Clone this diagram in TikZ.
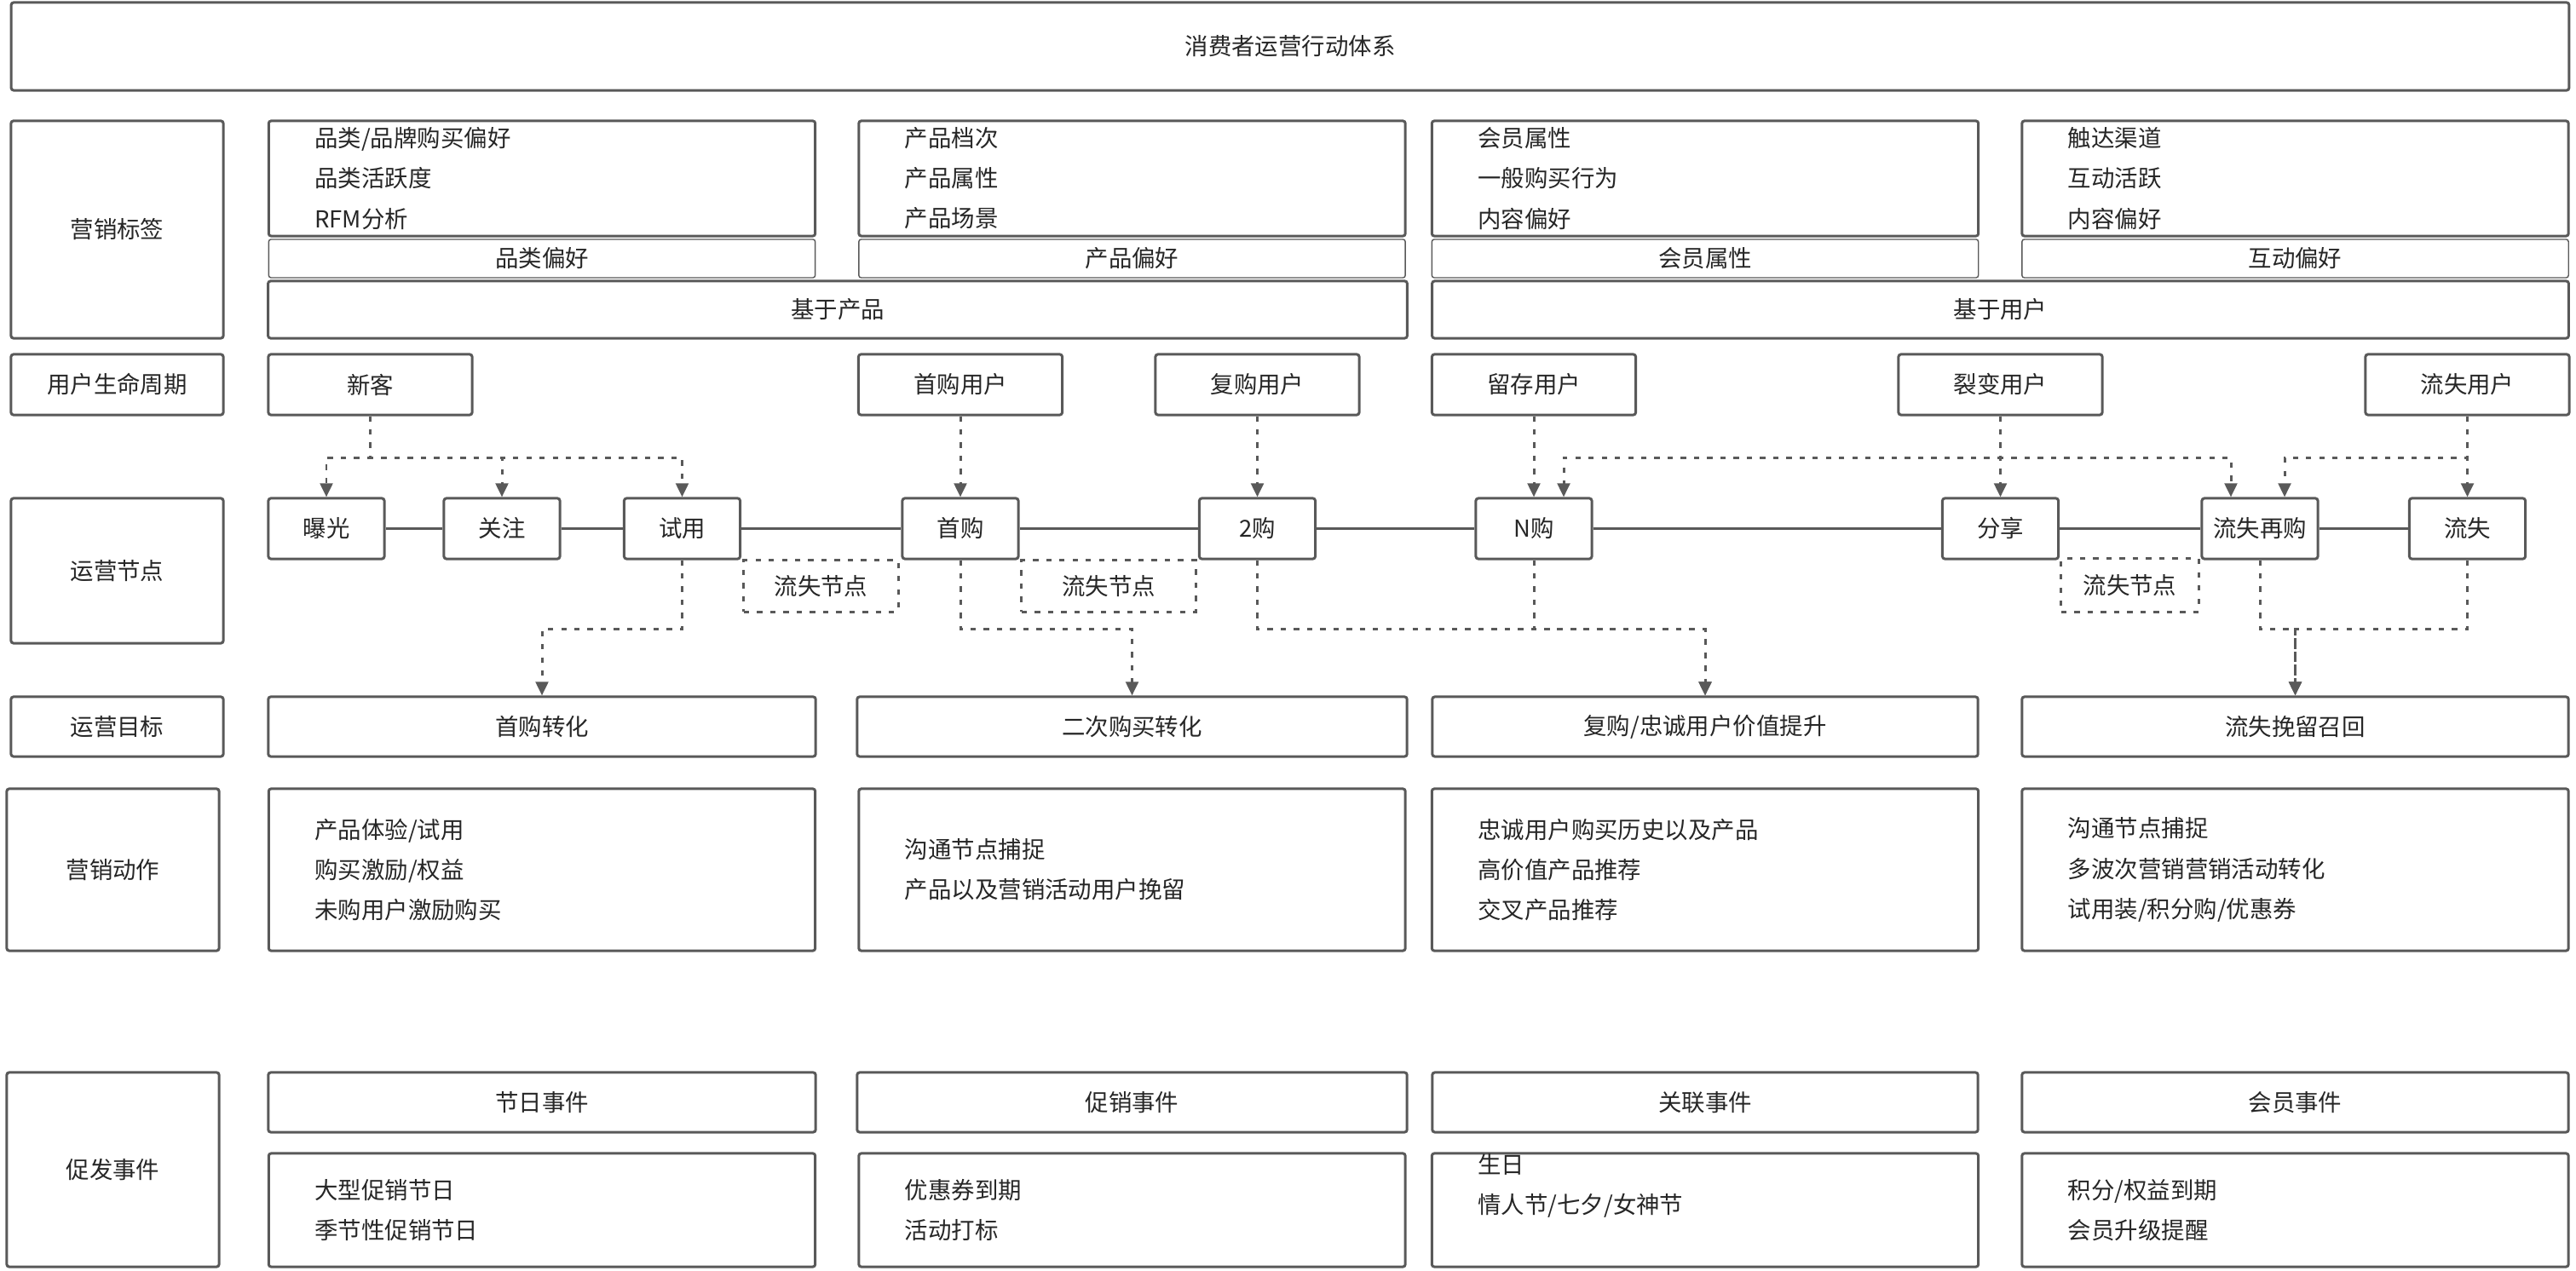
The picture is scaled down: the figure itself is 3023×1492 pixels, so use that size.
\documentclass[tikz,border=0pt]{standalone}
\usepackage{fontspec}
\setmainfont{Noto Sans CJK SC}
\usepackage{xcolor}
\usetikzlibrary{arrows.meta,positioning}
\definecolor{edgegray}{RGB}{89,89,89}
\definecolor{inkgray}{RGB}{38,38,38}

\begin{document}
\begin{tikzpicture}[
  x=0.01cm,y=-0.01cm,
  every node/.style={font=\fontsize{7.8}{13.4}\selectfont,text=inkgray,
                     align=center,inner sep=0pt},
  box/.style={draw=edgegray,line width=0.85pt,rounded corners=0.8pt,fill=white},
  thinbox/.style={box,line width=0.4pt},
  listbox/.style={box,align=left,text width=5.33cm,inner xsep=5.4mm},
  lossbox/.style={draw=edgegray,line width=0.85pt,dash pattern=on 1.8pt off 2.6pt},
  link/.style={draw=edgegray,line width=1pt},
  flow/.style={-{Triangle[length=4.6pt,width=4.2pt]},draw=edgegray,
               line width=0.85pt,dash pattern=on 1.8pt off 2.6pt}
]
\useasboundingbox (0,0) rectangle (3023,1492);

\node[box,minimum width=30cm,minimum height=1.03cm] (title) at (1514,54.5)
  {消费者运营行动体系};

% row labels
\node[box,minimum width=2.49cm,minimum height=2.55cm] (tagrow) at (137.5,269.5) {营销标签};
\node[box,minimum width=2.49cm,minimum height=0.71cm] (liferow) at (137.5,451.5) {用户生命周期};
\node[box,minimum width=2.49cm,minimum height=1.70cm] (noderow) at (137.5,670) {运营节点};
\node[box,minimum width=2.49cm,minimum height=0.70cm] (goalrow) at (137.5,853) {运营目标};
\node[box,minimum width=2.49cm,minimum height=1.90cm] (actrow) at (132.5,1021) {营销动作};
\node[box,minimum width=2.49cm,minimum height=2.28cm] (evtrow) at (132.5,1373) {促发事件};

% marketing tags
\node[listbox,minimum height=1.35cm] (tagA) at (636,209.5) {品类/品牌购买偏好\\品类活跃度\\RFM分析};
\node[listbox,minimum height=1.35cm] (tagB) at (1328.5,209.5) {产品档次\\产品属性\\产品场景};
\node[listbox,minimum height=1.35cm] (tagC) at (2001,209.5) {会员属性\\一般购买行为\\内容偏好};
\node[listbox,minimum height=1.35cm] (tagD) at (2693.5,209.5) {触达渠道\\互动活跃\\内容偏好};
\node[thinbox,minimum width=6.41cm,minimum height=0.45cm] (prefA) at (636,303.5) {品类偏好};
\node[thinbox,minimum width=6.41cm,minimum height=0.45cm] (prefB) at (1328.5,303.5) {产品偏好};
\node[thinbox,minimum width=6.41cm,minimum height=0.45cm] (prefC) at (2001,303.5) {会员属性};
\node[thinbox,minimum width=6.41cm,minimum height=0.45cm] (prefD) at (2693.5,303.5) {互动偏好};
\node[box,minimum width=13.36cm,minimum height=0.67cm] (byprod) at (983,363.5) {基于产品};
\node[box,minimum width=13.33cm,minimum height=0.67cm] (byuser) at (2347.5,363.5) {基于用户};

% life cycle
\node[box,minimum width=2.39cm,minimum height=0.71cm] (newc) at (434.5,451.5) {新客};
\node[box,minimum width=2.39cm,minimum height=0.71cm] (firstu) at (1127,451.5) {首购用户};
\node[box,minimum width=2.39cm,minimum height=0.71cm] (repeatu) at (1475.5,451.5) {复购用户};
\node[box,minimum width=2.39cm,minimum height=0.71cm] (keepu) at (1800,451.5) {留存用户};
\node[box,minimum width=2.39cm,minimum height=0.71cm] (fissu) at (2347.5,451.5) {裂变用户};
\node[box,minimum width=2.39cm,minimum height=0.71cm] (lostu) at (2895.5,451.5) {流失用户};

% operation nodes
\node[box,minimum width=1.36cm,minimum height=0.71cm] (expo) at (383,620.5) {曝光};
\node[box,minimum width=1.36cm,minimum height=0.71cm] (watch) at (589,620.5) {关注};
\node[box,minimum width=1.36cm,minimum height=0.71cm] (trial) at (800.5,620.5) {试用};
\node[box,minimum width=1.36cm,minimum height=0.71cm] (first) at (1127,620.5) {首购};
\node[box,minimum width=1.36cm,minimum height=0.71cm] (second) at (1475.5,620.5) {2购};
\node[box,minimum width=1.36cm,minimum height=0.71cm] (nth) at (1800,620.5) {N购};
\node[box,minimum width=1.36cm,minimum height=0.71cm] (share) at (2347.5,620.5) {分享};
\node[box,minimum width=1.36cm,minimum height=0.71cm] (rebuy) at (2652,620.5) {流失再购};
\node[box,minimum width=1.36cm,minimum height=0.71cm] (lost) at (2895.5,620.5) {流失};
\node[lossbox,minimum width=1.81cm,minimum height=0.60cm] (lossA) at (963.5,688) {流失节点};
\node[lossbox,minimum width=2.04cm,minimum height=0.60cm] (lossB) at (1301,688) {流失节点};
\node[lossbox,minimum width=1.61cm,minimum height=0.62cm] (lossC) at (2499.5,687) {流失节点};

% goals
\node[box,minimum width=6.42cm,minimum height=0.70cm] (goalA) at (636,853) {首购转化};
\node[box,minimum width=6.45cm,minimum height=0.70cm] (goalB) at (1328.5,853) {二次购买转化};
\node[box,minimum width=6.40cm,minimum height=0.70cm] (goalC) at (2001,853) {复购/忠诚用户价值提升};
\node[box,minimum width=6.41cm,minimum height=0.70cm] (goalD) at (2693.5,853) {流失挽留召回};

% marketing actions
\node[listbox,minimum height=1.90cm] (actA) at (636,1021) {产品体验/试用\\购买激励/权益\\未购用户激励购买};
\node[listbox,minimum height=1.90cm] (actB) at (1328.5,1021) {沟通节点捕捉\\产品以及营销活动用户挽留};
\node[listbox,minimum height=1.90cm] (actC) at (2001,1021) {忠诚用户购买历史以及产品\\高价值产品推荐\\交叉产品推荐};
\node[listbox,minimum height=1.90cm] (actD) at (2693.5,1021) {沟通节点捕捉\\多波次营销营销活动转化\\试用装/积分购/优惠券};

% trigger events
\node[box,minimum width=6.42cm,minimum height=0.70cm] (evtA) at (636,1294) {节日事件};
\node[box,minimum width=6.45cm,minimum height=0.70cm] (evtB) at (1328.5,1294) {促销事件};
\node[box,minimum width=6.40cm,minimum height=0.70cm] (evtC) at (2001,1294) {关联事件};
\node[box,minimum width=6.41cm,minimum height=0.70cm] (evtD) at (2693.5,1294) {会员事件};
\node[listbox,minimum height=1.33cm] (caseA) at (636,1420.5) {大型促销节日\\季节性促销节日};
\node[listbox,minimum height=1.33cm] (caseB) at (1328.5,1420.5) {优惠券到期\\活动打标};
\node[listbox,minimum height=1.33cm] (caseC) at (2001,1420.5) {生日\\情人节/七夕/女神节\\\strut};
\node[listbox,minimum height=1.33cm] (caseD) at (2693.5,1420.5) {积分/权益到期\\会员升级提醒};

% node chain
\draw[link] (expo) -- (watch) -- (trial) -- (first) -- (second) -- (nth)
  -- (share) -- (rebuy) -- (lost);

% life cycle to nodes
\draw[flow] (newc.south) -- ++(0,49) -| (expo);
\draw[flow] (newc.south) -- ++(0,49) -| (watch);
\draw[flow] (newc.south) -- ++(0,49) -| (trial);
\draw[flow] (firstu) -- (first);
\draw[flow] (repeatu) -- (second);
\draw[flow] (keepu) -- (nth);
\draw[flow] (fissu) -- (share);
\draw[flow] (fissu.south) -- ++(0,49) -| ([xshift=3.5mm]nth.north);
\draw[flow] (fissu.south) -- ++(0,49) -| ([xshift=-3.4mm]rebuy.north);
\draw[flow] (lostu) -- (lost);
\draw[flow] (lostu.south) -- ++(0,49) -| ([xshift=2.9mm]rebuy.north);

% nodes to goals
\draw[flow] (trial.south) -- ++(0,81) -| (goalA);
\draw[flow] (first.south) -- ++(0,81) -| (goalB);
\draw[flow] (second.south) -- ++(0,81) -| (goalC);
\draw[flow] (nth.south) -- ++(0,81) -| (goalC);
\draw[flow] (rebuy.south) -- ++(0,81) -| (goalD);
\draw[flow] (lost.south) -- ++(0,81) -| (goalD);
\end{tikzpicture}
\end{document}
